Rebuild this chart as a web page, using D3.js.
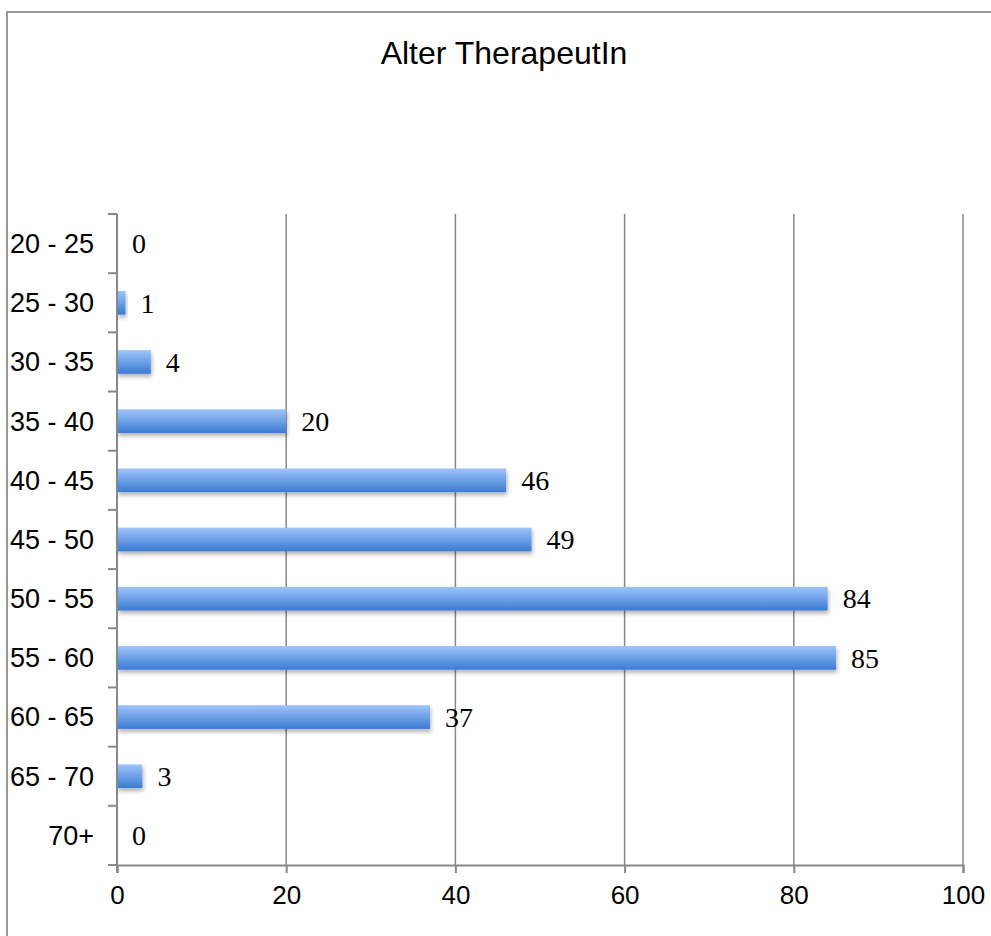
<!DOCTYPE html>
<html>
<head>
  <meta charset="utf-8">
  <title>Alter TherapeutIn</title>
  <script src="https://cdn.jsdelivr.net/npm/d3@7"></script>
  <style>
    body { margin: 0; background: #fff; }
  </style>
</head>
<body>
  <script type="text/javascript">

var categories = ["20 - 25", "25 - 30", "30 - 35", "35 - 40", "40 - 45", "45 - 50",
                  "50 - 55", "55 - 60", "60 - 65", "65 - 70", "70+"];
var values = [0, 1, 4, 20, 46, 49, 84, 85, 37, 3, 0];
var xTicks = [0, 20, 40, 60, 80, 100];
var title = "Alter TherapeutIn";

var width = 991, height = 936;
var margin = {top: 214, right: 28, bottom: 71, left: 117};

var svg = d3.select("body")
    .append("svg")
    .attr("width", width)
    .attr("height", height);

var defs = svg.append("defs");
var grad = defs.append("linearGradient")
    .attr("id", "barGrad")
    .attr("x1", 0).attr("y1", 0).attr("x2", 0).attr("y2", 1);
grad.append("stop").attr("offset", "0%").attr("stop-color", "#9fc4fa");
grad.append("stop").attr("offset", "100%").attr("stop-color", "#3a7bd2");

var shadow = defs.append("filter")
    .attr("id", "shadow")
    .attr("x", "-10%").attr("y", "-20%").attr("width", "130%").attr("height", "180%");
shadow.append("feDropShadow")
    .attr("dx", 1).attr("dy", 3).attr("stdDeviation", 2)
    .attr("flood-color", "#000").attr("flood-opacity", 0.3);

// frame (top and left edge only)
svg.append("path")
    .attr("d", "M7," + height + " V12 H" + width)
    .attr("fill", "none")
    .attr("stroke", "#999")
    .attr("stroke-width", 2);

svg.append("text")
    .attr("x", 504)
    .attr("y", 64)
    .attr("text-anchor", "middle")
    .style("font-family", "Liberation Sans, Arial, sans-serif")
    .style("font-size", "32px")
    .text(title);

var xScale = d3.scaleLinear()
    .domain([0, 100])
    .range([margin.left, width - margin.right]);

var yScale = d3.scaleBand()
    .domain(categories)
    .range([margin.top, height - margin.bottom])
    .paddingInner(0.6)
    .paddingOuter(0.3);

var step = yScale.step();
var y0 = margin.top, y1 = height - margin.bottom;

// gridlines
svg.append("g")
    .selectAll("line")
    .data(xTicks.slice(1))
    .enter()
    .append("line")
    .attr("x1", function(d){ return xScale(d); })
    .attr("x2", function(d){ return xScale(d); })
    .attr("y1", y0)
    .attr("y2", y1)
    .attr("stroke", "#888")
    .attr("stroke-width", 1.5);

// bars
svg.append("g")
    .selectAll("rect")
    .data(values)
    .enter()
    .append("rect")
    .attr("x", xScale(0))
    .attr("y", function(d, i){ return yScale(categories[i]); })
    .attr("width", function(d){ return xScale(d) - xScale(0); })
    .attr("height", yScale.bandwidth())
    .attr("fill", "url(#barGrad)")
    .attr("filter", "url(#shadow)");

// value labels
svg.append("g")
    .selectAll("text")
    .data(values)
    .enter()
    .append("text")
    .attr("x", function(d){ return xScale(d) + 15; })
    .attr("y", function(d, i){ return yScale(categories[i]) + yScale.bandwidth() / 2; })
    .attr("dy", "0.35em")
    .style("font-family", "Liberation Serif, Cambria, serif")
    .style("font-size", "28px")
    .text(function(d){ return d; });

// left axis: line, ticks at band edges, category labels
var left = svg.append("g");
left.selectAll("line.tick")
    .data(d3.range(categories.length + 1))
    .enter()
    .append("line")
    .attr("x1", xScale(0) - 9)
    .attr("x2", xScale(0))
    .attr("y1", function(i){ return y0 + i * step; })
    .attr("y2", function(i){ return y0 + i * step; })
    .attr("stroke", "#888")
    .attr("stroke-width", 2);

left.selectAll("text")
    .data(categories)
    .enter()
    .append("text")
    .attr("x", 94)
    .attr("y", function(d){ return yScale(d) + yScale.bandwidth() / 2; })
    .attr("dy", "0.35em")
    .attr("text-anchor", "end")
    .style("font-family", "Liberation Sans, Arial, sans-serif")
    .style("font-size", "27px")
    .text(function(d){ return d; });

left.append("line")
    .attr("x1", xScale(0)).attr("x2", xScale(0))
    .attr("y1", y0).attr("y2", y1 + 8)
    .attr("stroke", "#888")
    .attr("stroke-width", 2);

// bottom axis
var bottom = svg.append("g")
    .attr("transform", "translate(0," + y1 + ")")
    .call(d3.axisBottom(xScale).tickValues(xTicks).tickSize(8).tickPadding(13));

bottom.select(".domain")
    .attr("stroke", "#888")
    .attr("stroke-width", 2);
bottom.selectAll(".tick line")
    .attr("stroke", "#888")
    .attr("stroke-width", 2);
bottom.selectAll(".tick text")
    .attr("fill", "#000")
    .style("font-family", "Liberation Sans, Arial, sans-serif")
    .style("font-size", "26px");

  </script>
</body>
</html>
